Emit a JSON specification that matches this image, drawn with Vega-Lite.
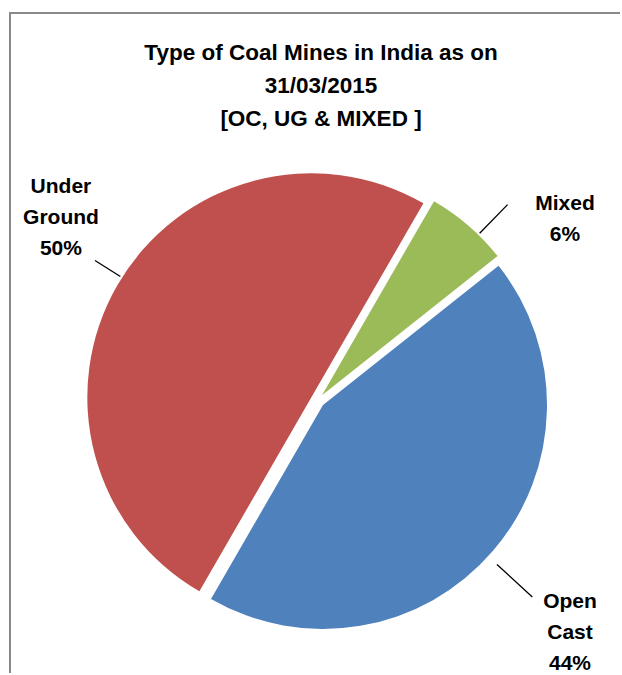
{
  "$schema": "https://vega.github.io/schema/vega-lite/v6.json",
  "autosize": "none",
  "width": 616,
  "height": 666,
  "padding": {"left": 10, "top": 13, "right": -6, "bottom": -6},
  "background": "white",
  "view": {"stroke": "#898989", "strokeWidth": 2, "fill": "white"},
  "title": {
    "text": ["Type of Coal Mines in India as on", "31/03/2015", "[OC, UG & MIXED ]"],
    "font": "Liberation Sans",
    "fontSize": 22.5,
    "fontWeight": "bold",
    "color": "black",
    "lineHeight": 33,
    "anchor": "middle",
    "offset": -117,
    "dx": 3
  },
  "data": {
    "values": [
      {"type": "Mixed", "name": "Mixed", "pct": 6, "order": 1},
      {"type": "Open Cast", "name": "Open\nCast", "pct": 44, "order": 2},
      {"type": "Under Ground", "name": "Under\nGround", "pct": 50, "order": 3}
    ]
  },
  "transform": [
    {"stack": "pct", "groupby": [], "sort": [{"field": "order", "order": "ascending"}], "as": ["p0", "p1"]},
    {"calculate": "(datum.p0 + datum.p1) / 2", "as": "mid"},
    {"calculate": "datum.name + '\\n' + datum.pct + '%'", "as": "label"}
  ],
  "layer": [
    {
      "transform": [{"filter": "datum.type === 'Open Cast'"}],
      "layer": [
        {
          "mark": {"type": "arc", "outerRadius": 224, "xOffset": 5, "yOffset": 59},
          "encoding": {
            "theta": {"field": "p0", "type": "quantitative", "stack": null, "scale": {"domain": [0, 100], "range": [0.5236, 6.8068]}},
            "theta2": {"field": "p1"},
            "color": {"field": "type", "type": "nominal", "legend": null, "scale": {"domain": ["Mixed", "Open Cast", "Under Ground"], "range": ["#9BBB59", "#4F81BD", "#C0504D"]}}
          }
        },
        {
          "mark": {"type": "arc", "innerRadius": 236, "outerRadius": 284, "xOffset": 5, "yOffset": 59, "thetaOffset": 0.03, "theta2Offset": 0.03, "stroke": "black", "strokeWidth": 1.3, "fillOpacity": 0},
          "encoding": {
            "theta": {"field": "mid", "type": "quantitative", "stack": null},
            "theta2": {"field": "mid"}
          }
        },
        {
          "mark": {"type": "text", "radius": 290, "xOffset": 32.5, "yOffset": 67, "font": "Liberation Sans", "fontSize": 21, "fontWeight": "bold", "lineBreak": "\n", "lineHeight": 31, "align": "center", "baseline": "middle", "color": "black"},
          "encoding": {
            "theta": {"field": "mid", "type": "quantitative", "stack": null},
            "text": {"field": "label"}
          }
        }
      ]
    },
    {
      "transform": [{"filter": "datum.type === 'Under Ground'"}],
      "layer": [
        {
          "mark": {"type": "arc", "outerRadius": 224, "xOffset": -6.6, "yOffset": 51.3},
          "encoding": {
            "theta": {"field": "p0", "type": "quantitative", "stack": null},
            "theta2": {"field": "p1"},
            "color": {"field": "type", "type": "nominal", "legend": null}
          }
        },
        {
          "mark": {"type": "arc", "innerRadius": 226, "outerRadius": 256, "xOffset": -6.6, "yOffset": 51.3, "thetaOffset": 0.04, "theta2Offset": 0.04, "stroke": "black", "strokeWidth": 1.3, "fillOpacity": 0},
          "encoding": {
            "theta": {"field": "mid", "type": "quantitative", "stack": null},
            "theta2": {"field": "mid"}
          }
        },
        {
          "mark": {"type": "text", "radius": 290, "xOffset": -5.9, "yOffset": -13.5, "font": "Liberation Sans", "fontSize": 21, "fontWeight": "bold", "lineBreak": "\n", "lineHeight": 31, "align": "center", "baseline": "middle", "color": "black"},
          "encoding": {
            "theta": {"field": "mid", "type": "quantitative", "stack": null},
            "text": {"field": "label"}
          }
        }
      ]
    },
    {
      "transform": [{"filter": "datum.type === 'Mixed'"}],
      "layer": [
        {
          "mark": {"type": "arc", "outerRadius": 224, "xOffset": 4, "yOffset": 49.2},
          "encoding": {
            "theta": {"field": "p0", "type": "quantitative", "stack": null},
            "theta2": {"field": "p1"},
            "color": {"field": "type", "type": "nominal", "legend": null}
          }
        },
        {
          "mark": {"type": "arc", "innerRadius": 226, "outerRadius": 266, "xOffset": 4, "yOffset": 49.2, "thetaOffset": 0.06, "theta2Offset": 0.06, "stroke": "black", "strokeWidth": 1.3, "fillOpacity": 0},
          "encoding": {
            "theta": {"field": "mid", "type": "quantitative", "stack": null},
            "theta2": {"field": "mid"}
          }
        },
        {
          "mark": {"type": "text", "radius": 290, "xOffset": 57.5, "yOffset": 77.25, "font": "Liberation Sans", "fontSize": 21, "fontWeight": "bold", "lineBreak": "\n", "lineHeight": 31, "align": "center", "baseline": "middle", "color": "black"},
          "encoding": {
            "theta": {"field": "mid", "type": "quantitative", "stack": null},
            "text": {"field": "label"}
          }
        }
      ]
    }
  ]
}
